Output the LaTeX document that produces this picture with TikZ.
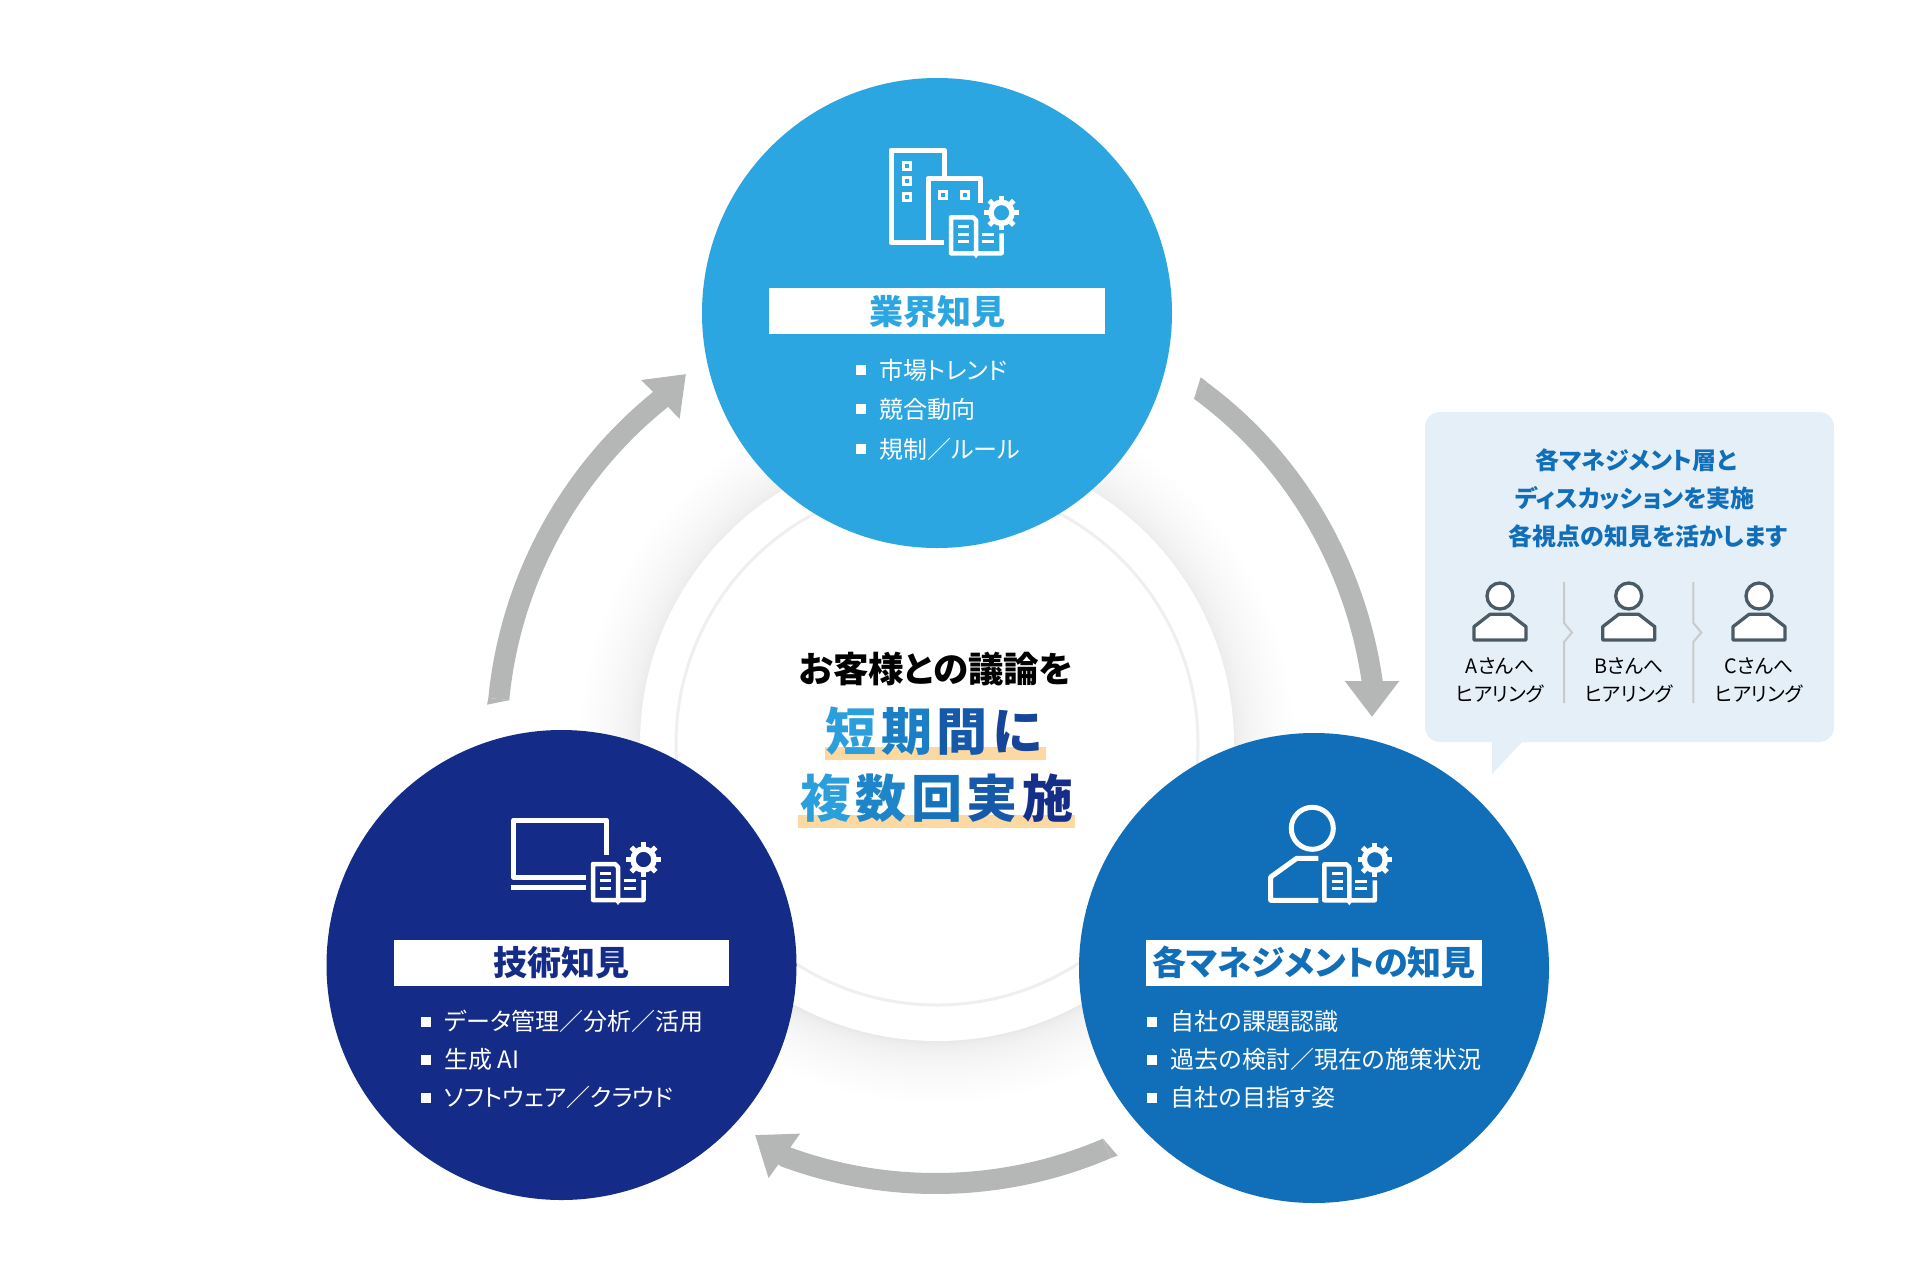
\documentclass[tikz,border=0pt]{standalone}
\usepackage{fontspec}
\usepackage{xcolor}
\usetikzlibrary{positioning,arrows.meta,calc}
\setmainfont{Noto Sans CJK JP}[RawFeature=+palt]
\newfontfamily\jpblack{Noto Sans CJK JP Black}
\definecolor{gyokaicol}{HTML}{2CA6E0}
\definecolor{mgmtcol}{HTML}{116EB8}
\definecolor{techcol}{HTML}{142B87}
\definecolor{arcgray}{HTML}{B5B7B6}
\definecolor{bubblecol}{HTML}{E5EFF8}
\definecolor{staffcol}{HTML}{4A5B66}
\definecolor{ringcol}{HTML}{EEEFEF}
\definecolor{hlcol}{HTML}{FBD9A0}
\definecolor{stepcol}{HTML}{C9CBCB}
\definecolor{gra}{HTML}{2A9FDC}
\definecolor{grb}{HTML}{1F85C9}
\definecolor{grc}{HTML}{1672BB}
\definecolor{grd}{HTML}{1659A8}
\definecolor{gre}{HTML}{152F88}
\newcommand{\jpsize}[1]{\fontsize{#1}{#1}\selectfont}
\newcommand{\gc}[2]{\textcolor{#1}{#2}\kern4.5pt}

\begin{document}
\begin{tikzpicture}[x=1pt,y=-1pt,
   knowc/.style={circle,inner sep=0pt,minimum size=470pt},
   titlebar/.style={fill=white,inner sep=0pt,minimum width=335.5pt,minimum height=46pt,
              font=\jpsize{34}\bfseries,text height=29pt,text depth=3pt},
   sq/.style={fill=white,inner sep=0pt,minimum size=10pt},
   listtxt/.style={text=white,inner sep=0pt,font=\jpsize{24},text height=21pt,text depth=3pt},
   leadtxt/.style={inner sep=0pt,font=\jpsize{35.5}\bfseries,text height=30pt,text depth=3pt},
   bigtxt/.style={inner sep=0pt,font=\jpsize{51}\jpblack,text height=42pt,text depth=3pt},
   hlbar/.style={fill=hlcol,inner sep=0pt,minimum height=13pt},
   bubbletxt/.style={inner sep=0pt,text=mgmtcol,font=\jpsize{24}\bfseries,text height=21pt,text depth=3pt},
   stafftxt/.style={inner sep=0pt,font=\jpsize{19.8},text height=18pt,text depth=3pt},
   cycarrow/.style={draw=arcgray,line width=21pt,-{Triangle[length=36pt,width=52pt]}},
   iconline/.style={draw=white,line width=5pt,line join=round},
   pageline/.style={draw=white,line width=3pt},
   bookgear/.pic={
     \draw[iconline,line width=4.5pt] (0,0) -- (-25,0) -- (-25,-36) -- (-3,-36) -- (0,-33) -- (0,0) -- (25.5,0) -- (25.5,-20);
     \fill[white] (-3,1) -- (0,5) -- (3,1) -- cycle;
     \foreach \yy in {-26.7,-19.3,-11.7} \draw[pageline] (-17.7,\yy) -- (-6.7,\yy);
     \foreach \yy in {-19.3,-11.7} \draw[pageline] (5.7,\yy) -- (18,\yy);
     \draw[iconline,line width=5.5pt] (25.5,-40.5) circle[radius=10.5];
     \foreach \a in {0,45,...,315} \draw[draw=white,line width=5pt] (25.5,-40.5) ++(\a:11) -- ++(\a:6.3);
   },
   staffman/.pic={
     \draw[staffcol,fill=white,line width=3.3pt] (0,0) circle[radius=13];
     \draw[staffcol,fill=white,line width=3.3pt,line join=round] (-26,44) -- (-26,30.7) -- (-10,18.3) -- (10,18.3) -- (26,30.7) -- (26,44) -- cycle;
   },
   stepbar/.pic={
     \draw[stepcol,line width=2pt] (0,0) -- (0,41) -- (8,50.5) -- (0,60) -- (0,121);
   },
]
\useasboundingbox (0,0) rectangle (1920,1280);
\fill[white] (0,0) rectangle (1920,1280);

% centre disc
\foreach \n [evaluate=\n as \rr using 297+60*(\n/22)^2] in {1,...,22}
  \fill[black,opacity=.0022] (937,746) circle[radius=\rr];
\node[circle,fill=white,inner sep=0pt,minimum size=594pt] (hub) at (937,744) {};
\node[circle,draw=ringcol,line width=3pt,inner sep=0pt,minimum size=522pt] (hubring) at (937,744) {};

% soft shadows of the three discs
\foreach \cx/\cy in {937/313,1314/968,561.5/965}
  \foreach \n [evaluate=\n as \rr using 235+55*(\n/22)^2] in {1,...,22}
    \fill[black,opacity=.0045] (\cx,\cy+4) circle[radius=\rr];

% three discs
\node[knowc,fill=gyokaicol] (gyokai) at (937,313) {};
\node[knowc,fill=mgmtcol] (mgmt) at (1314,968) {};
\node[knowc,fill=techcol] (tech) at (561.5,965) {};

% icons
\draw[iconline] (944,178) -- (944,150) -- (891,150) -- (891,242.5) -- (944,242.5);
\draw[iconline] (928,242.5) -- (928,178.5) -- (980.5,178.5) -- (980.5,203);
\foreach \wx/\wy in {906.7/165.7,906.7/181.3,906.7/197.3,943.3/194.7,964.7/194.7}
  \draw[pageline] (\wx-3.5,\wy-3.5) rectangle (\wx+3.5,\wy+3.5);
\pic at (976,253.3) {bookgear};
\draw[iconline] (1312.3,828.3) circle[radius=21];
\draw[iconline] (1318.3,858.3) -- (1296.7,858.3) -- (1270.7,877) -- (1270.7,900.3) -- (1318.3,900.3);
\pic at (1349.3,900.3) {bookgear};
\draw[iconline] (606.7,855) -- (606.7,820) -- (513.7,820) -- (513.7,877.3) -- (586,877.3);
\draw[iconline] (511,887.3) -- (586,887.3);
\pic at (618,900) {bookgear};

% title bars
\node[titlebar,text=gyokaicol] (gyokaiT) at (937,311) {業界知見};
\node[titlebar,text=mgmtcol] (mgmtT) at (1314,962.5) {各マネジメントの知見};
\node[titlebar,text=techcol] (techT) at (561.5,962.5) {技術知見};

% lists
\foreach \yy/\nm in {370/a,409/b,449/c} \node[sq] (gb\nm) at (861,\yy) {};
\node[listtxt,right=13pt of gba] (gt1) {市場トレンド};
\node[listtxt,right=13pt of gbb] (gt2) {競合動向};
\node[listtxt,right=13pt of gbc] (gt3) {規制／ルール};
\foreach \yy/\nm in {1022/a,1060/b,1098/c} \node[sq] (mb\nm) at (1152,\yy) {};
\node[listtxt,yshift=1pt,right=13.5pt of mba] (mt1) {自社の課題認識};
\node[listtxt,yshift=1pt,right=13.5pt of mbb] (mt2) {過去の検討／現在の施策状況};
\node[listtxt,yshift=1pt,right=13.5pt of mbc] (mt3) {自社の目指す姿};
\foreach \yy/\nm in {1022/a,1060/b,1098/c} \node[sq] (tb\nm) at (426,\yy) {};
\node[listtxt,yshift=1pt,right=13pt of tba] (tt1) {データ管理／分析／活用};
\node[listtxt,yshift=1pt,right=13pt of tbb] (tt2) {生成 AI};
\node[listtxt,yshift=1pt,right=13pt of tbc] (tt3) {ソフトウェア／クラウド};

% centre text
\node[leadtxt] (lead) at (936,669) {お客様との議論を};
\node[hlbar,minimum width=221pt] (bar1) at (935.5,753.5) {};
\node[hlbar,minimum width=277pt] (bar2) at (936.5,821.5) {};
\node[bigtxt] (big1) at (936.7,731) {\gc{gra}{短}\gc{grb!70!grc}{期}\gc{grd}{間}\gc{grd!50!gre}{に}};
\node[bigtxt] (big2) at (939,798) {\gc{gra}{複}\gc{grb}{数}\gc{grc}{回}\gc{grd}{実}\gc{gre}{施}};

% cycle arrows
\coordinate (arcAs) at (1200.2,390.4);
\coordinate (arcAb) at (1372,680);
\coordinate (arcAt) at (1372,717);
\coordinate (arcBs) at (1106.8,1148.4);
\coordinate (arcBb) at (786,1157);
\coordinate (arcBt) at (755,1135);
\coordinate (arcCs) at (498.8,699);
\coordinate (arcCb) at (659.5,400.3);
\coordinate (arcCt) at (686,374);
\draw[cycarrow] (arcAs) .. controls +(92.6,67.7) and +(-17.3,-117) .. (arcAb) -- (arcAt);
\draw[cycarrow] (arcBs) .. controls +(-100,43) and +(105.4,38.6) .. (arcBb) -- (arcBt);
\draw[cycarrow] (arcCs) .. controls +(11.1,-115) and +(-92.3,74.5) .. (arcCb) -- (arcCt);
% slanted cut of the arrow tails
\fill[arcgray] (1200.7,377.3) -- (1206.6,381.7) -- (1194,399) -- cycle;
\fill[arcgray] (1102.7,1138.3) -- (1110.9,1158) -- (1117.7,1155.7) -- cycle;
\fill[arcgray] (488.4,698) -- (487,704.7) -- (510,700) -- cycle;

% callout
\node[fill=bubblecol,rounded corners=15pt,inner sep=0pt,minimum width=409pt,minimum height=330pt] (bubble) at (1629.5,577) {};
\fill[bubblecol] (1492,741) -- (1492,774) -- (1523,741) -- cycle;
\node[bubbletxt] (bub1) at (1636,460) {各マネジメント層と};
\node[bubbletxt] (bub2) at (1635,498) {ディスカッションを実施};
\node[bubbletxt] (bub3) at (1648,536) {各視点の知見を活かします};
\foreach \px/\nm in {1500/A,1628.7/B,1759/C} {
  \pic at (\px,596) {staffman};
  \node[stafftxt] (lab\nm) at (\px,666) {\nm さんへ};
  \node[stafftxt] (hear\nm) at (\px,694) {ヒアリング};
}
\pic at (1564,582) {stepbar};
\pic at (1693.3,582) {stepbar};
\end{tikzpicture}
\end{document}
